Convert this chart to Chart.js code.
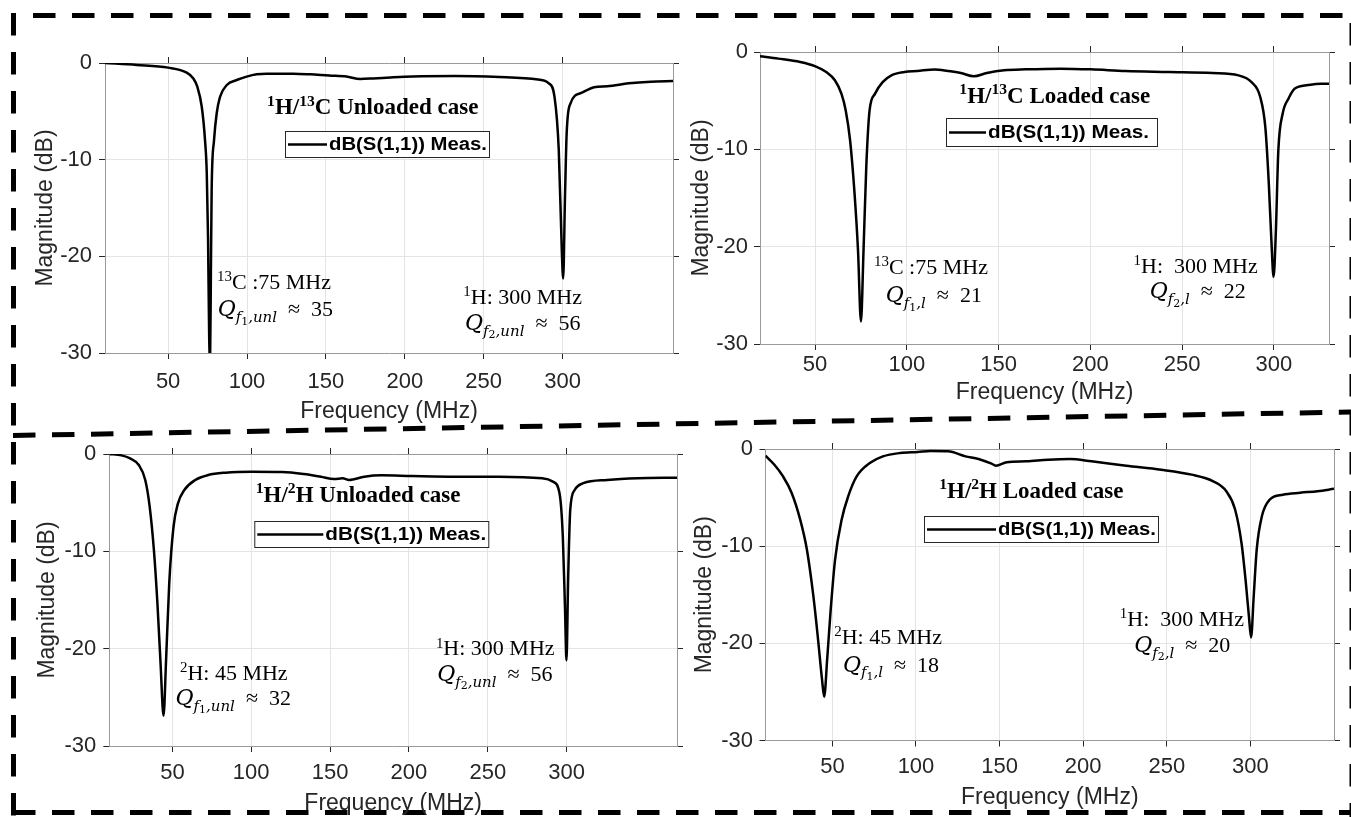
<!DOCTYPE html>
<html>
<head>
<meta charset="utf-8">
<script src="https://cdn.jsdelivr.net/npm/chart.js@4.4.1/dist/chart.umd.min.js"></script>
<style>
  body { margin: 0; background: #fff; }
  #page { position: relative; width: 1351px; height: 817px; overflow: hidden; background: #fff; }
  #page canvas { position: absolute; }
</style>
</head>
<body>
<div id="page">
  <canvas id="frame" width="1351" height="817" style="left:0;top:0"></canvas>
</div>
<script>
// S11 measurements (MHz, dB)
const freqC13Unl = [10, 30, 50, 61.8, 66, 68.5, 71.3, 73.4, 74.5, 75.3, 76, 76.6, 77.1, 77.6, 79.1, 80.8, 82.9, 87.2, 93.5, 99.8, 106.2, 112.5, 129.4, 140, 152, 163, 171.7, 180, 191, 205, 232, 260, 284.4, 291.3, 294.9, 297.6, 299.5, 300.4, 301.5, 302.6, 305, 311.9, 320, 328.4, 342, 356, 370];
const magC13Unl = [0, -0.2, -0.48, -1.0, -1.6, -2.45, -4.5, -8, -11.4, -18, -28, -31, -22, -13.1, -8, -5.2, -3.5, -2.28, -1.76, -1.41, -1.17, -1.1, -1.1, -1.17, -1.3, -1.4, -1.65, -1.6, -1.5, -1.4, -1.35, -1.45, -1.7, -2.1, -3.5, -9, -19.3, -22.3, -14.2, -7.3, -4.2, -3.1, -2.5, -2.4, -2.1, -1.93, -1.86];

const freqC13Load = [20, 30, 41.9, 50.2, 56.1, 60.8, 64.4, 66.7, 69.1, 71.5, 73.4, 75, 76.4, 77.9, 79.7, 82.6, 86.8, 91.6, 98.7, 105.7, 115.2, 122.3, 129.4, 136.5, 143.6, 153, 164.8, 183.8, 200.3, 219.2, 242.9, 266.5, 280.7, 287.8, 292.5, 295.3, 297.2, 298.6, 299.8, 301, 302.4, 304.8, 307.9, 311.4, 318.5, 325.6, 330];
const magC13Load = [-0.44, -0.68, -1.03, -1.47, -2.05, -2.9, -4.3, -6.0, -9.1, -14.5, -20.4, -27.7, -20.4, -11.8, -6.0, -4.3, -3.1, -2.4, -2.05, -1.95, -1.8, -1.95, -2.16, -2.5, -2.16, -1.88, -1.78, -1.71, -1.78, -1.95, -2.05, -2.16, -2.4, -3.1, -4.6, -7.7, -13.5, -19.3, -23.1, -18.7, -10.1, -6.3, -4.8, -3.76, -3.4, -3.25, -3.25];

const freqH2Unl = [10, 17.7, 23.2, 28.7, 32.8, 35.6, 38.3, 40.5, 42.5, 44.4, 46, 48, 50.7, 53.5, 57.6, 64.5, 72.7, 83.7, 100.2, 119.5, 133.2, 144.2, 152.5, 158, 162, 171.7, 182.7, 202, 229.5, 257, 284.5, 291.3, 295.5, 297.6, 299, 299.9, 301, 302.3, 305.1, 310.6, 325.7, 345, 370];
const magH2Unl = [0, -0.14, -0.45, -1.13, -2.67, -5.4, -9.9, -15.3, -21.5, -26.9, -21.2, -13.3, -7.5, -5.1, -3.7, -2.67, -2.16, -1.92, -1.82, -1.85, -2.05, -2.33, -2.57, -2.5, -2.67, -2.33, -2.19, -2.26, -2.33, -2.33, -2.5, -2.84, -4.04, -8.5, -16, -21.2, -12.6, -5.75, -3.7, -3.0, -2.67, -2.5, -2.43];

const freqH2Load = [10, 15.2, 20.4, 25.6, 30.8, 34.7, 38.6, 41.2, 43.8, 45.1, 46.9, 49, 51.6, 55.5, 59.4, 64.6, 72.4, 80.2, 90.6, 101, 108.8, 119.2, 129.6, 137.4, 145.2, 147.8, 154.3, 166, 179, 192, 205, 225.8, 246.6, 264.8, 277.8, 285.6, 290.8, 294.7, 297.3, 299.1, 300.4, 302, 303.8, 306.9, 311.6, 319.4, 329.8, 340.2, 350];
const magH2Load = [-0.69, -1.6, -2.8, -4.5, -7.3, -10.3, -15.1, -19.2, -23.7, -25.5, -21.6, -16.5, -11.4, -7.3, -4.9, -2.8, -1.44, -0.76, -0.41, -0.31, -0.21, -0.24, -0.76, -1.03, -1.51, -1.72, -1.37, -1.27, -1.1, -1.03, -1.27, -1.72, -2.13, -2.64, -3.33, -4.35, -6.2, -9.7, -13.8, -17.2, -19.4, -15.1, -10.3, -6.9, -5.2, -4.7, -4.5, -4.35, -4.1];

const freqTicks = [50, 100, 150, 200, 250, 300];
const magTicks = [0, -10, -20, -30];
const freqRanges = [[10, 370], [20, 330], [10, 370], [10, 350]];

const legendLabel = 'dB(S(1,1)) Meas.';
const xTitle = 'Frequency (MHz)';
const yTitle = 'Magnitude (dB)';

// rich text runs: sup / sub / sub2 (second level), it = italic, m = math face
const titleRuns = [
  [{t: '1', sup: 1}, {t: 'H/'}, {t: '13', sup: 1}, {t: 'C Unloaded case'}],
  [{t: '1', sup: 1}, {t: 'H/'}, {t: '13', sup: 1}, {t: 'C Loaded case'}],
  [{t: '1', sup: 1}, {t: 'H/'}, {t: '2', sup: 1}, {t: 'H Unloaded case'}],
  [{t: '1', sup: 1}, {t: 'H/'}, {t: '2', sup: 1}, {t: 'H Loaded case'}]
];
const qRuns = (n, tag, q) => [{t: 'Q', it: 1, m: 1}, {t: 'f', sub: 1, it: 1, m: 1}, {t: n, sub2: 1, m: 1}, {t: ',' + tag, sub: 1, it: 1, m: 1}, {t: '\u2002\u2248\u2002' + q}];
const peakRuns = [
  [[{t: '13', sup: 1}, {t: 'C :75 MHz'}], qRuns('1', 'unl', '35'), [{t: '1', sup: 1}, {t: 'H: 300 MHz'}], qRuns('2', 'unl', '56')],
  [[{t: '13', sup: 1}, {t: 'C :75 MHz'}], qRuns('1', 'l', '21'), [{t: '1', sup: 1}, {t: 'H:  300 MHz'}], qRuns('2', 'l', '22')],
  [[{t: '2', sup: 1}, {t: 'H: 45 MHz'}], qRuns('1', 'unl', '32'), [{t: '1', sup: 1}, {t: 'H: 300 MHz'}], qRuns('2', 'unl', '56')],
  [[{t: '2', sup: 1}, {t: 'H: 45 MHz'}], qRuns('1', 'l', '18'), [{t: '1', sup: 1}, {t: 'H:  300 MHz'}], qRuns('2', 'l', '20')]
];
const series = [[freqC13Unl, magC13Unl], [freqC13Load, magC13Load], [freqH2Unl, magH2Unl], [freqH2Load, magH2Load]];

// panel geometry: plot area in page px, axis box sizes, text anchors in data units
const panels = [
  {area: {l: 105, t: 63, r: 673, b: 353.3}, axis: {left: 105, right: 6, top: 6, bottom: 72},
   yTitlePad: 32, xTickPad: 10, yTickPad: 7,
   title: [179.7, -5.3], legend: {dx: 180, dy: 68, w: 205, h: 27, line: 39},
   peaks: [[81, -23.4], [81.4, -26.2], [237.1, -24.9], [238.2, -27.6]]},
  {area: {l: 760, t: 51.7, r: 1329.3, b: 344}, axis: {left: 80, right: 6, top: 6, bottom: 62},
   yTitlePad: 8, xTickPad: 2, yTickPad: 6,
   title: [180.6, -5.2], legend: {dx: 186, dy: 66, w: 212, h: 29, line: 37},
   peaks: [[82.1, -22.8], [88.5, -25.7], [223.5, -22.7], [232.3, -25.3]]},
  {area: {l: 109.3, t: 454, r: 677.4, b: 746}, axis: {left: 109.3, right: 6, top: 6, bottom: 71},
   yTitlePad: 34, xTickPad: 8, yTickPad: 7,
   title: [167.8, -4.9], legend: {dx: 145, dy: 67, w: 235, h: 27, line: 66},
   peaks: [[54.8, -23.2], [52, -25.8], [217.1, -20.7], [217.9, -23.3]]},
  {area: {l: 765.5, t: 449.3, r: 1333.6, b: 741.3}, axis: {left: 85.5, right: 6, top: 6, bottom: 70.5},
   yTitlePad: 11, xTickPad: 7, yTickPad: 6.5,
   title: [169, -5.0], legend: {dx: 158.5, dy: 67, w: 235, h: 27, line: 69},
   peaks: [[51.1, -20.1], [56.3, -22.9], [221.9, -18.2], [230.5, -20.9]]}
];
const headroom = 16;

const SERIF = '"Liberation Serif", "Times New Roman", serif';
const MATH = '"DejaVu Serif", "Liberation Serif", serif';
const SANS = '"Liberation Sans", Arial, sans-serif';
const INK = '#262626';

function runSize(r, size) {
  if (r.sup || r.sub) return size * 0.68;
  if (r.sub2) return size * 0.5;
  return size;
}
function runFont(r, size, bold) {
  return (r.it ? 'italic ' : '') + (bold ? 'bold ' : '') + runSize(r, size) + 'px ' + (r.m ? MATH : SERIF);
}
function runShift(r, size) {
  if (r.sup) return -size * 0.36;
  if (r.sub) return size * 0.26;
  if (r.sub2) return size * 0.38;
  return 0;
}
function drawRuns(ctx, runs, x, y, size, bold, center) {
  ctx.save();
  ctx.textBaseline = 'alphabetic';
  ctx.textAlign = 'left';
  ctx.fillStyle = '#000';
  let w = 0;
  runs.forEach(r => { ctx.font = runFont(r, size, bold); w += ctx.measureText(r.t).width; });
  let cx = center ? x - w / 2 : x;
  runs.forEach(r => {
    ctx.font = runFont(r, size, bold);
    ctx.fillText(r.t, cx, y + runShift(r, size));
    cx += ctx.measureText(r.t).width;
  });
  ctx.restore();
}

function textPlugin(i) {
  const p = panels[i];
  return {
    id: 'panelText' + i,
    afterDatasetsDraw(chart) {
      const {ctx, chartArea} = chart;
      const xs = chart.scales.x, ys = chart.scales.y;
      // panel heading
      drawRuns(ctx, titleRuns[i], xs.getPixelForValue(p.title[0]), ys.getPixelForValue(p.title[1]), 23, true, true);
      // legend box
      const lg = p.legend;
      const bx = chartArea.left + lg.dx, by = chartArea.top + lg.dy;
      ctx.save();
      ctx.fillStyle = '#fff';
      ctx.fillRect(bx, by, lg.w, lg.h);
      ctx.strokeStyle = INK;
      ctx.lineWidth = 1;
      ctx.strokeRect(bx + 0.5, by + 0.5, lg.w - 1, lg.h - 1);
      ctx.strokeStyle = '#000';
      ctx.lineWidth = 2.5;
      ctx.beginPath();
      ctx.moveTo(bx + 3, by + lg.h / 2);
      ctx.lineTo(bx + 3 + lg.line, by + lg.h / 2);
      ctx.stroke();
      ctx.font = 'bold 18px ' + SANS;
      ctx.fillStyle = '#000';
      ctx.textBaseline = 'middle';
      const tw = ctx.measureText(legendLabel).width;
      const room = lg.w - lg.line - 8;
      ctx.translate(bx + lg.line + 5, by + lg.h / 2 + 1);
      ctx.scale(Math.min(room, 161) / tw, 1);
      ctx.fillText(legendLabel, 0, 0);
      ctx.restore();
      // resonance labels
      p.peaks.forEach((pt, k) => {
        drawRuns(ctx, peakRuns[i][k], xs.getPixelForValue(pt[0]), ys.getPixelForValue(pt[1]), 22, false, false);
      });
    }
  };
}

const page = document.getElementById('page');

panels.forEach((p, i) => {
  const a = p.area, ax = p.axis;
  const L = a.l - ax.left, T = a.t - ax.top - headroom;
  const W = a.r + ax.right - L, H = a.b + ax.bottom - T;
  const cv = document.createElement('canvas');
  cv.width = Math.round(W);
  cv.height = Math.round(H);
  cv.style.left = L + 'px';
  cv.style.top = T + 'px';
  page.appendChild(cv);

  const fitW = w => s => { s.width = w; s.paddingTop = 0; s.paddingBottom = 0; };
  const fitH = h => s => { s.height = h; s.paddingLeft = 0; s.paddingRight = 0; };
  const setX = s => { s.ticks = freqTicks.map(v => ({value: v})); };
  const setY = s => { s.ticks = magTicks.map(v => ({value: v})); };
  const [fq, mg] = series[i];
  const [xmin, xmax] = freqRanges[i];
  const labelFont = {family: SANS, size: 22};
  const titleFont = {family: SANS, size: 23};
  const grid = {color: '#e4e4e4', lineWidth: 1, tickLength: 6, tickColor: INK};
  const border = {color: '#9a9a9a', width: 1};

  new Chart(cv, {
    type: 'line',
    data: {
      datasets: [{
        label: legendLabel,
        data: fq.map((f, k) => ({x: f, y: mg[k]})),
        borderColor: '#000',
        borderWidth: 2.5,
        pointRadius: 0,
        cubicInterpolationMode: 'monotone',
        clip: 0
      }]
    },
    options: {
      responsive: false,
      animation: false,
      devicePixelRatio: 1,
      layout: {padding: {top: headroom, left: 0, right: 0, bottom: 0}, autoPadding: false},
      plugins: {legend: {display: false}, tooltip: {enabled: false}},
      scales: {
        x: {
          type: 'linear', position: 'bottom', min: xmin, max: xmax,
          afterBuildTicks: setX, afterFit: fitH(ax.bottom),
          grid: grid, border: border,
          ticks: {font: labelFont, color: INK, padding: p.xTickPad, maxRotation: 0, callback: v => v},
          title: {display: true, text: xTitle, font: titleFont, color: INK, padding: {top: 0, bottom: 0}}
        },
        xTop: {
          type: 'linear', position: 'top', min: xmin, max: xmax,
          afterBuildTicks: setX, afterFit: fitH(ax.top),
          grid: {drawOnChartArea: false, tickLength: 6, tickColor: INK}, border: border,
          ticks: {display: false}
        },
        y: {
          type: 'linear', position: 'left', min: -30, max: 0,
          afterBuildTicks: setY, afterFit: fitW(ax.left),
          grid: grid, border: border,
          ticks: {font: labelFont, color: INK, padding: p.yTickPad, callback: v => v},
          title: {display: true, text: yTitle, font: titleFont, color: INK, padding: {top: p.yTitlePad, bottom: 0}}
        },
        yRight: {
          type: 'linear', position: 'right', min: -30, max: 0,
          afterBuildTicks: setY, afterFit: fitW(ax.right),
          grid: {drawOnChartArea: false, tickLength: 6, tickColor: INK}, border: border,
          ticks: {display: false}
        }
      }
    },
    plugins: [textPlugin(i)]
  });
});

// dashed frames around the two rows
const fr = document.getElementById('frame').getContext('2d');
fr.strokeStyle = '#000';
fr.lineWidth = 5;
fr.setLineDash([22.5, 16.5]);
function dashed(x1, y1, x2, y2) {
  fr.beginPath();
  fr.moveTo(x1, y1);
  fr.lineTo(x2, y2);
  fr.stroke();
}
dashed(33, 15.5, 1351, 15.5);
dashed(13.5, 13, 13.5, 816);
dashed(13, 435.5, 1351, 412);
dashed(13, 812.5, 1351, 812.5);
dashed(1352, 23, 1352, 817);
</script>
</body>
</html>
